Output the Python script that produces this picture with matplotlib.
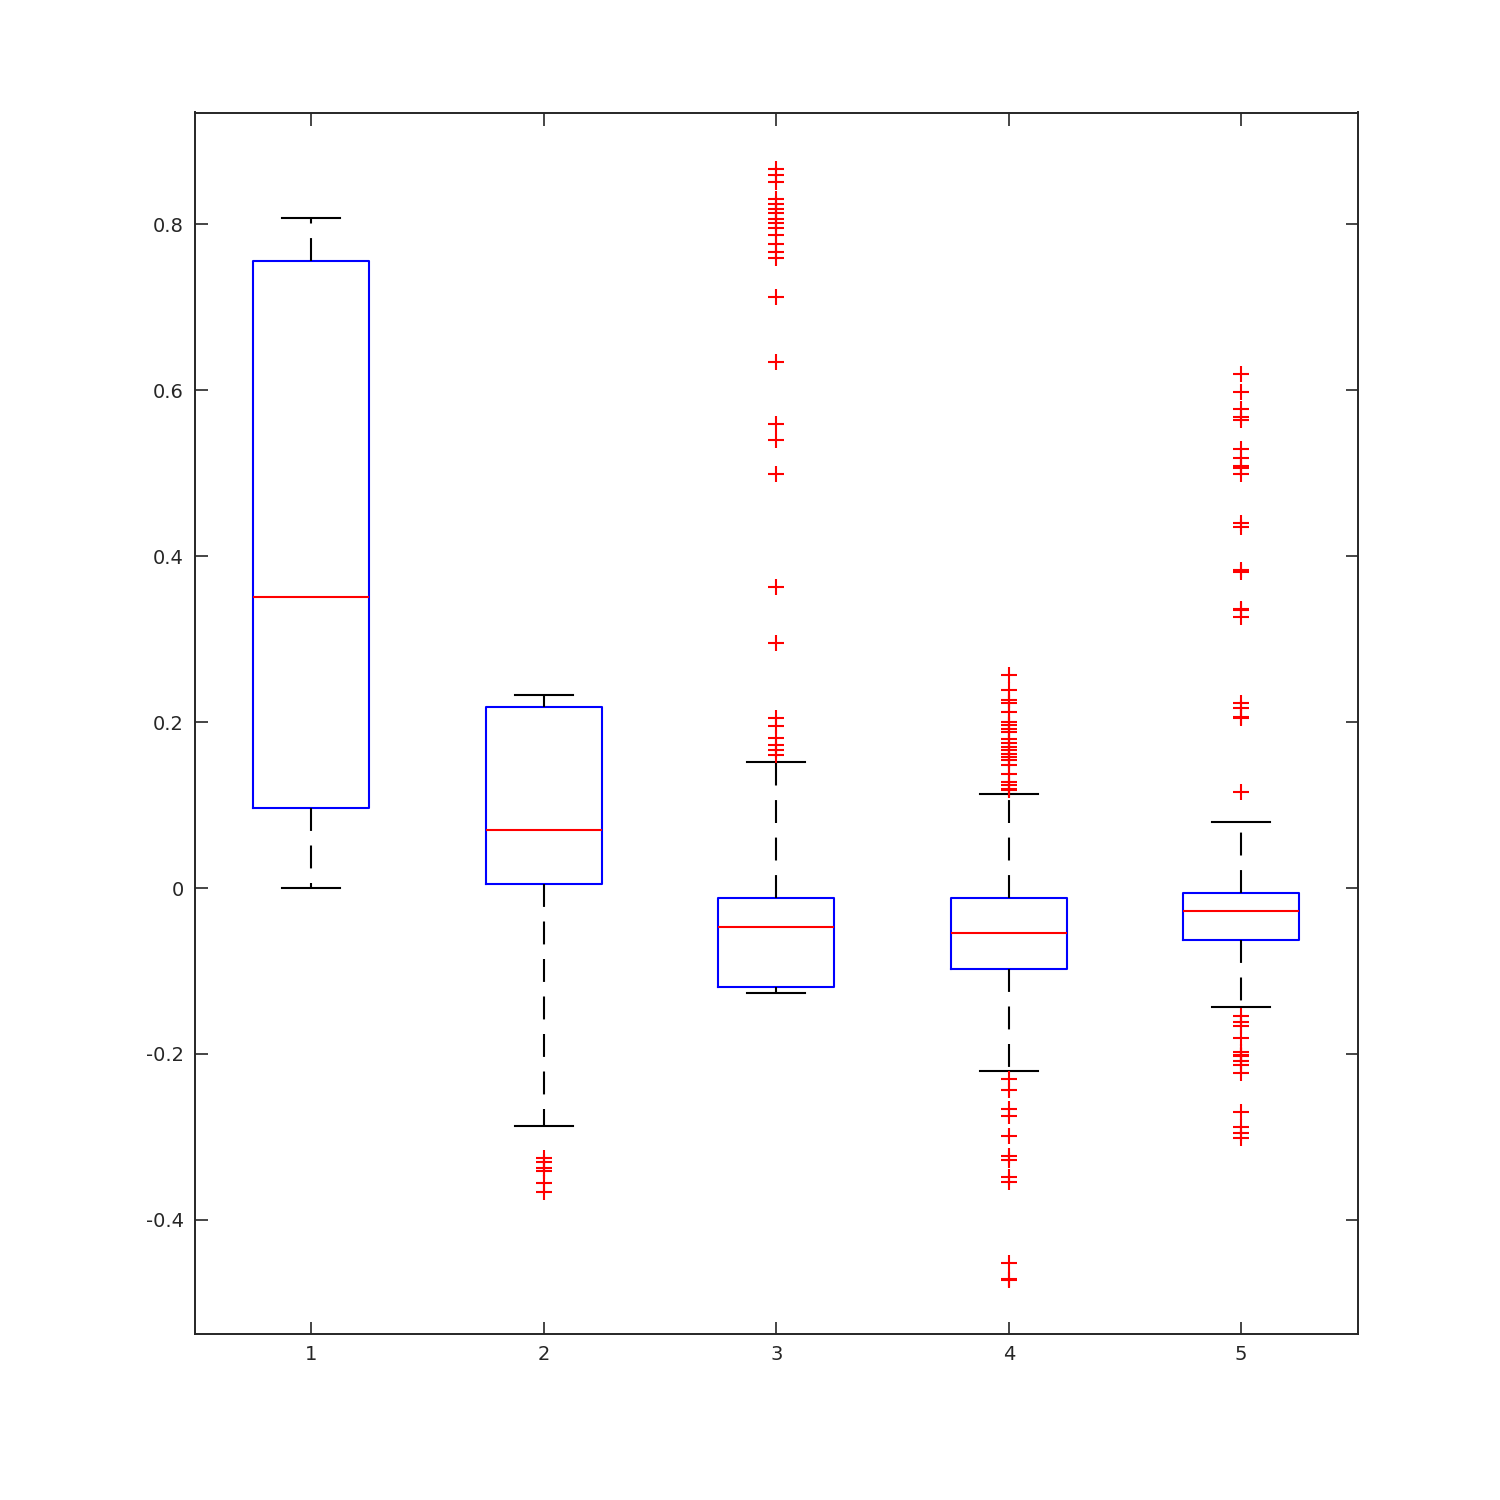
import matplotlib
matplotlib.use("Agg")
import matplotlib.pyplot as plt

# box statistics
positions = [1, 2, 3, 4, 5]
medians = [0.351, 0.070, -0.047, -0.054, -0.028]
q1 = [0.096, 0.005, -0.119, -0.098, -0.063]
q3 = [0.756, 0.218, -0.012, -0.012, -0.006]
whislo = [0.0, -0.287, -0.127, -0.220, -0.143]
whishi = [0.808, 0.233, 0.152, 0.113, 0.080]

fliers_1 = []
fliers_2 = [-0.326, -0.330, -0.337, -0.341, -0.355, -0.366]
fliers_3 = [0.867, 0.860, 0.851, 0.831, 0.825, 0.819, 0.814, 0.807, 0.802,
            0.796, 0.787, 0.777, 0.767, 0.759, 0.712, 0.634, 0.560, 0.540,
            0.499, 0.363, 0.295, 0.205, 0.195, 0.181, 0.172, 0.166, 0.160]
fliers_4 = [0.257, 0.239, 0.227, 0.223, 0.212, 0.200, 0.196, 0.192, 0.188,
            0.180, 0.175, 0.170, 0.166, 0.162, 0.158, 0.154, 0.148, 0.138,
            0.128, 0.124, 0.120, 0.118,
            -0.230, -0.243, -0.266, -0.275, -0.299, -0.323, -0.328, -0.348,
            -0.354, -0.452, -0.471, -0.473]
fliers_5 = [0.620, 0.598, 0.578, 0.568, 0.564, 0.529, 0.518, 0.509, 0.506,
            0.499, 0.440, 0.435, 0.383, 0.381, 0.337, 0.335, 0.327, 0.223,
            0.217, 0.206, 0.205, 0.116,
            -0.154, -0.161, -0.166, -0.181, -0.198, -0.201, -0.203, -0.209,
            -0.213, -0.223, -0.270, -0.288, -0.295, -0.301]
fliers = [fliers_1, fliers_2, fliers_3, fliers_4, fliers_5]

xticks = [1, 2, 3, 4, 5]
yticks = [-0.4, -0.2, 0, 0.2, 0.4, 0.6, 0.8]
ytick_labels = ["-0.4", "-0.2", "0", "0.2", "0.4", "0.6", "0.8"]

stats = []
for i in range(len(positions)):
    stats.append({
        "med": medians[i], "q1": q1[i], "q3": q3[i],
        "whislo": whislo[i], "whishi": whishi[i], "fliers": fliers[i],
    })

fig = plt.figure(figsize=(15, 15), dpi=100)
ax = fig.add_axes([0.13, 0.111, 0.775, 0.814])

ax.bxp(stats, positions=positions, widths=0.5, capwidths=0.25,
       showfliers=True,
       boxprops=dict(color="#0000ff", linewidth=1.5),
       medianprops=dict(color="#ff0000", linewidth=1.5),
       whiskerprops=dict(color="black", linewidth=1.5, linestyle=(0, (11, 7))),
       capprops=dict(color="black", linewidth=1.5),
       flierprops=dict(marker="+", markeredgecolor="#ff0000", markersize=11,
                       markeredgewidth=1.5, linestyle="none"))

ax.set_xlim(0.5, 5.5)
ax.set_ylim(-0.537, 0.935)
ax.set_xticks(xticks)
ax.set_xticklabels([str(x) for x in xticks])
ax.set_yticks(yticks)
ax.set_yticklabels(ytick_labels)

ax.tick_params(direction="in", length=9, width=1.2, colors="#262626",
               labelsize=14, top=True, right=True, pad=8)
for s in ax.spines.values():
    s.set_color("#262626")
    s.set_linewidth(1.4)

fig.savefig("out.png", dpi=100)
